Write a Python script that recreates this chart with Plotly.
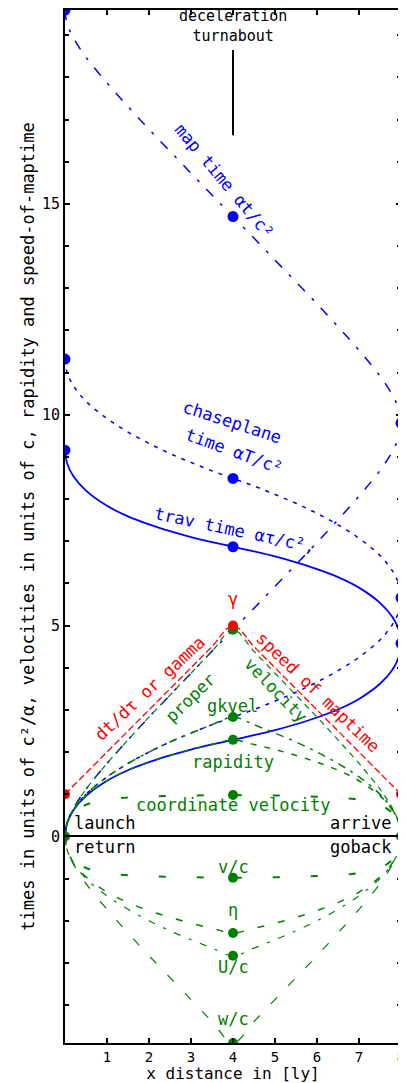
import plotly.graph_objects as go

# ---------------- data ----------------
# distance along the trip, light-years
X = [0, 0.05, 0.2, 0.5, 1, 1.5, 2, 2.5, 3, 3.5, 4, 4.5, 5, 5.5, 6, 6.5, 7, 7.5, 7.8, 7.95, 8]

# outbound velocities (upper half)
GAMMA = [1, 1.05, 1.2, 1.5, 2, 2.5, 3, 3.5, 4, 4.5, 5, 4.5, 4, 3.5, 3, 2.5, 2, 1.5, 1.2, 1.05, 1]
PROPER_VEL = [0, 0.32, 0.66, 1.12, 1.73, 2.29, 2.83, 3.35, 3.87, 4.39, 4.90, 4.39, 3.87, 3.35, 2.83, 2.29, 1.73, 1.12, 0.66, 0.32, 0]
GK_VEL = [0, 0.32, 0.63, 1.00, 1.41, 1.73, 2.00, 2.24, 2.45, 2.65, 2.83, 2.65, 2.45, 2.24, 2.00, 1.73, 1.41, 1.00, 0.63, 0.32, 0]
RAPIDITY = [0, 0.31, 0.62, 0.96, 1.32, 1.57, 1.76, 1.92, 2.06, 2.18, 2.29, 2.18, 2.06, 1.92, 1.76, 1.57, 1.32, 0.96, 0.62, 0.31, 0]
COORD_VEL = [0, 0.30, 0.55, 0.75, 0.87, 0.92, 0.94, 0.96, 0.97, 0.975, 0.98, 0.975, 0.97, 0.96, 0.94, 0.92, 0.87, 0.75, 0.55, 0.30, 0]

# return-trip velocities (lower half)
RET_PROPER_VEL = [0, -0.32, -0.66, -1.12, -1.73, -2.29, -2.83, -3.35, -3.87, -4.39, -4.90, -4.39, -3.87, -3.35, -2.83, -2.29, -1.73, -1.12, -0.66, -0.32, 0]
RET_GK_VEL = [0, -0.32, -0.63, -1.00, -1.41, -1.73, -2.00, -2.24, -2.45, -2.65, -2.83, -2.65, -2.45, -2.24, -2.00, -1.73, -1.41, -1.00, -0.63, -0.32, 0]
RET_RAPIDITY = [0, -0.31, -0.62, -0.96, -1.32, -1.57, -1.76, -1.92, -2.06, -2.18, -2.29, -2.18, -2.06, -1.92, -1.76, -1.57, -1.32, -0.96, -0.62, -0.31, 0]
RET_COORD_VEL = [0, -0.30, -0.55, -0.75, -0.87, -0.92, -0.94, -0.96, -0.97, -0.975, -0.98, -0.975, -0.97, -0.96, -0.94, -0.92, -0.87, -0.75, -0.55, -0.30, 0]

# elapsed times (outbound and return legs)
MAP_OUT = [0, 0.32, 0.66, 1.12, 1.73, 2.29, 2.83, 3.35, 3.87, 4.39, 4.90, 5.41, 5.93, 6.45, 6.97, 7.51, 8.07, 8.68, 9.14, 9.48, 9.80]
MAP_RET = [19.60, 19.28, 18.94, 18.48, 17.87, 17.31, 16.77, 16.25, 15.73, 15.21, 14.70, 14.19, 13.67, 13.15, 12.63, 12.09, 11.53, 10.92, 10.46, 10.12, 9.80]
CHASE_OUT = [0, 0.32, 0.63, 1.00, 1.41, 1.73, 2.00, 2.24, 2.45, 2.65, 2.83, 3.01, 3.21, 3.42, 3.66, 3.93, 4.25, 4.66, 5.03, 5.34, 5.66]
CHASE_RET = [11.32, 11.00, 10.69, 10.32, 9.91, 9.59, 9.32, 9.08, 8.87, 8.67, 8.49, 8.31, 8.11, 7.90, 7.66, 7.39, 7.07, 6.66, 6.29, 5.98, 5.66]
TRAV_OUT = [0, 0.31, 0.62, 0.96, 1.32, 1.57, 1.76, 1.92, 2.06, 2.18, 2.29, 2.40, 2.52, 2.66, 2.82, 3.01, 3.26, 3.62, 3.96, 4.27, 4.58]
TRAV_RET = [9.16, 8.85, 8.54, 8.20, 7.84, 7.59, 7.40, 7.24, 7.10, 6.98, 6.87, 6.76, 6.64, 6.50, 6.34, 6.15, 5.90, 5.54, 5.20, 4.89, 4.58]

X_TICKS = [1, 2, 3, 4, 5, 6, 7, 8]
TURN_X = 4
TURN_LINE_Y = [16.63, 18.65]

# ---------------- styling ----------------
BLUE = "#0000ff"
RED = "#ff0000"
GREEN = "#008000"
FONT = "DejaVu Sans Mono"
MID = 10  # index of the turnabout point
END = len(X) - 1

fig = go.Figure()


def line(y, color, dash, width=1.5):
    fig.add_trace(go.Scatter(x=X, y=y, mode="lines", line_shape="spline",
                             line=dict(color=color, dash=dash, width=width),
                             hoverinfo="skip"))


# blue time curves
line(TRAV_OUT, BLUE, "solid", 1.8)
line(TRAV_RET, BLUE, "solid", 1.8)
line(MAP_OUT, BLUE, "10px,10px,3px,10px", 1.5)
line(MAP_RET, BLUE, "10px,10px,3px,10px", 1.5)
line(CHASE_OUT, BLUE, "4px,6px", 1.5)
line(CHASE_RET, BLUE, "4px,6px", 1.5)

# green velocity curves
line(PROPER_VEL, GREEN, "6px,5px", 1.2)
line(GK_VEL, GREEN, "3px,6px,8px,6px", 1.5)
line(RAPIDITY, GREEN, "6px,8px", 1.5)
line(COORD_VEL, GREEN, "7px,31px", 2)
line(RET_PROPER_VEL, GREEN, "9px,16px", 1.2)
line(RET_GK_VEL, GREEN, "3px,9px,7px,9px", 1.2)
line(RET_RAPIDITY, GREEN, "7px,14px", 1.5)
line(RET_COORD_VEL, GREEN, "7px,31px", 2)

# red gamma curve
line(GAMMA, RED, "7px,3px", 1.3)


def dots(xs, ys, color, size=10):
    fig.add_trace(go.Scatter(x=xs, y=ys, mode="markers",
                             marker=dict(color=color, size=size, line=dict(width=0)),
                             hoverinfo="skip"))


dots([X[0], X[0], X[0], X[END], X[END], X[END], X[MID], X[MID], X[MID]],
     [MAP_RET[0], CHASE_RET[0], TRAV_RET[0], MAP_OUT[END], CHASE_OUT[END], TRAV_OUT[END],
      MAP_RET[MID], CHASE_RET[MID], TRAV_RET[MID]], BLUE, 11)
dots([X[0], X[END], X[MID], X[MID], X[MID], X[MID], X[MID], X[MID], X[MID], X[MID]],
     [PROPER_VEL[0], PROPER_VEL[END], PROPER_VEL[MID], GK_VEL[MID], RAPIDITY[MID], COORD_VEL[MID],
      RET_COORD_VEL[MID], RET_RAPIDITY[MID], RET_GK_VEL[MID], RET_PROPER_VEL[MID]], GREEN, 10)
dots([X[0], X[END], X[MID]], [GAMMA[0], GAMMA[END], GAMMA[MID]], RED, 10)

# turnabout marker line
fig.add_shape(type="line", x0=TURN_X, x1=TURN_X, y0=TURN_LINE_Y[0], y1=TURN_LINE_Y[1],
              line=dict(color="black", width=2))


def label(text, x, y, color, angle=0, size=17, xanchor="center"):
    fig.add_annotation(x=x, y=y, text=text, showarrow=False, textangle=angle,
                       xanchor=xanchor, yanchor="middle",
                       font=dict(family=FONT, size=size, color=color))


label("deceleration<br>turnabout", 4.0, 19.22, "black", size=15)
label("map time αt/c²", 3.8, 15.55, BLUE, 50)
label("chaseplane", 3.98, 9.82, BLUE, 18)
label("time αT/c²", 4.02, 9.14, BLUE, 20)
label("trav time ατ/c²,", 4.05, 7.27, BLUE, 12)
label("γ", 4.0, 5.62, RED)
label("dt/dτ or gamma", 2.02, 3.52, RED, -43)
label("speed of maptime", 6.02, 3.42, RED, 44)
label("proper", 2.98, 3.28, GREEN, -44)
label("velocity", 5.02, 3.47, GREEN, 46)
label("gkvel", 3.98, 3.09, GREEN)
label("rapidity", 4.0, 1.77, GREEN)
label("coordinate velocity", 4.0, 0.75, GREEN)
label("launch", 0.17, 0.32, "black", xanchor="left")
label("arrive", 7.81, 0.32, "black", xanchor="right")
label("return", 0.17, -0.25, "black", xanchor="left")
label("goback", 7.81, -0.25, "black", xanchor="right")
label("v/c", 4.0, -0.73, GREEN)
label("η", 4.0, -1.75, GREEN)
label("U/c", 4.0, -3.1, GREEN)
label("w/c", 4.0, -4.34, GREEN)

# the page body adds an 8px offset, so the figure is sized to fill the rest of the window
fig.update_layout(
    width=398, height=1075,
    margin=dict(l=57, r=5, t=2, b=40),
    plot_bgcolor="white", paper_bgcolor="white",
    showlegend=False,
    font=dict(family=FONT, color="black"),
)
fig.update_xaxes(
    range=[0, 8], tickvals=X_TICKS, ticks="inside", ticklen=5, tickwidth=1.5,
    tickcolor="black", showline=True, linecolor="black", linewidth=2, mirror="ticks",
    showgrid=False, zeroline=False, automargin=False,
    tickfont=dict(family=FONT, size=14, color="black"),
    title=dict(text="x distance in [ly]", font=dict(family=FONT, size=16, color="black"), standoff=0),
)
fig.update_yaxes(
    range=[-4.9, 19.6], tick0=0, dtick=5, ticks="inside", ticklen=5, tickwidth=1.5,
    tickcolor="black", showline=True, linecolor="black", linewidth=2, mirror="ticks",
    minor=dict(dtick=1, ticks="inside", ticklen=4, tickcolor="black", tickwidth=1.5, showgrid=False),
    showgrid=False, zeroline=True, zerolinecolor="black", zerolinewidth=1.5, automargin=False,
    tickfont=dict(family=FONT, size=15, color="black"),
    title=dict(text="times in units of c²/α, velocities in units of c, rapidity and speed-of-maptime",
               font=dict(family=FONT, size=17, color="black"), standoff=3),
)

fig.write_html("out.html")
